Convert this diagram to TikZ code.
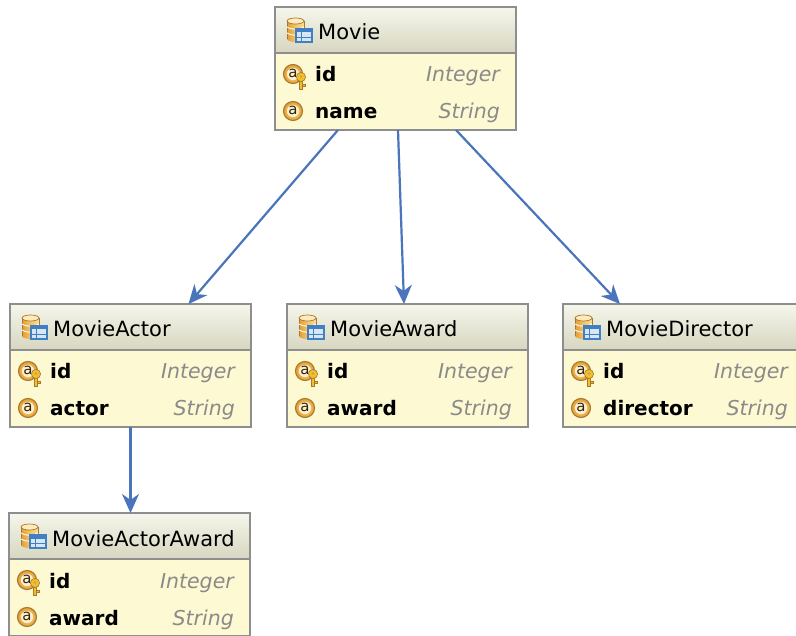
\documentclass[tikz,border=0pt]{standalone}
\usepackage{fontspec}
\setmainfont{DejaVu Sans}
\usetikzlibrary{arrows.meta}
\definecolor{bodyc}{HTML}{FDF9D3}
\definecolor{hdtop}{HTML}{F6F6EC}
\definecolor{hdbot}{HTML}{D6D6C0}
\definecolor{bordc}{HTML}{8E8E8E}
\definecolor{arrc}{HTML}{4A74BC}
\definecolor{typec}{HTML}{8A8A8A}
\definecolor{orA}{HTML}{FBDD92}
\definecolor{orB}{HTML}{E39E34}
\definecolor{orD}{HTML}{A9782A}
\definecolor{tblc}{HTML}{3F7FC4}
\definecolor{keyc}{HTML}{F2BE2C}
\tikzset{
 ebox/.style={draw=bordc, line width=1.4pt, fill=bodyc, minimum width=241pt, minimum height=123pt, inner sep=0pt, outer sep=0pt, rectangle},
 ttl/.style={anchor=base west, inner sep=0pt, font=\fontsize{21}{24}\selectfont},
 fname/.style={anchor=base west, inner sep=0pt, font=\fontsize{20}{24}\selectfont\bfseries},
 ftype/.style={anchor=base east, inner sep=0pt, text=typec, font=\fontsize{20.5}{24}\selectfont\itshape},
 aletter/.style={inner sep=0pt, text=black!70!orD, font=\fontsize{15}{15}\selectfont},
 arr/.style={draw=arrc, line width=2.2pt, -{Stealth[length=19pt,width=17pt,inset=6pt]}},
}
% database icon, top-left corner at (#1,#2)
\newcommand\dbicon[2]{%
 \shade[left color=orB, right color=orA, middle color=orA!60!orB] (#1,#2+3) rectangle (#1+17,#2+21);
 \shade[left color=orB, right color=orA, middle color=orA!60!orB] (#1+8.5,#2+21) ellipse [x radius=8.5pt, y radius=3pt];
 \fill[orA!60!white] (#1+8.5,#2+3) ellipse [x radius=8.5pt, y radius=3pt];
 \draw[orD, line width=0.7pt] (#1+8.5,#2+3) ellipse [x radius=8.5pt, y radius=3pt];
 \draw[orD, line width=0.7pt] (#1,#2+3) -- (#1,#2+21) (#1+17,#2+3) -- (#1+17,#2+21);
 \draw[white, line width=0.9pt] (#1,#2+9) .. controls (#1+4,#2+12) and (#1+13,#2+12) .. (#1+17,#2+9);
 \draw[white, line width=0.9pt] (#1,#2+15) .. controls (#1+4,#2+18) and (#1+13,#2+18) .. (#1+17,#2+15);
 \fill[white!80!tblc] (#1+9,#2+11) rectangle (#1+25,#2+24);
 \fill[tblc] (#1+9,#2+11) rectangle (#1+25,#2+14.5);
 \draw[tblc, line width=0.7pt] (#1+9,#2+19) -- (#1+25,#2+19) (#1+14,#2+14.5) -- (#1+14,#2+24);
 \draw[tblc, line width=1.1pt] (#1+9,#2+11) rectangle (#1+25,#2+24);
}
% attribute icon centred at (#1,#2), node name #3
\newcommand\attricon[3]{%
 \shade[inner color=orA, outer color=orB] (#1,#2) circle [radius=9.5pt];
 \draw[orD, line width=1.1pt] (#1,#2) circle [radius=9.5pt];
 \fill[white!55!orA] (#1,#2) circle [radius=6.2pt];
 \node[aletter] (#3) at (#1,#2-0.8) {a};
}
\newcommand\keyicon[2]{%
 \fill[keyc, draw=orD, line width=0.6pt] (#1+6.5,#2+6) rectangle (#1+9.5,#2+15);
 \fill[keyc, draw=orD, line width=0.6pt] (#1+9.5,#2+10.5) rectangle (#1+12,#2+12.5);
 \fill[keyc, draw=orD, line width=0.6pt] (#1+8,#2+3) circle [radius=4.6pt];
 \fill[orD!70!white] (#1+8,#2+2.5) circle [radius=1.4pt];
}
% entity box: #1 name, #2 left, #3 top, #4 title, #5 attribute
\newcommand\entity[5]{%
 \node[ebox, anchor=north west] (#1) at (#2,#3) {};
 \shade[top color=hdtop, bottom color=hdbot] (#2,#3) rectangle (#2+241,#3+46);
 \draw[bordc, line width=1.4pt] (#2,#3) rectangle (#2+241,#3+123);
 \draw[bordc, line width=1.4pt] (#2,#3+46) -- (#2+241,#3+46);
 \dbicon{#2+12}{#3+11}
 \node[ttl] (#1-title) at (#2+43,#3+33) {#4};
 \attricon{#2+18}{#3+67}{#1-ic1}
 \keyicon{#2+18}{#3+67}
 \node[fname] (#1-n1) at (#2+40,#3+75) {id};
 \node[ftype] (#1-t1) at (#2+225,#3+75) {Integer};
 \attricon{#2+18}{#3+104}{#1-ic2}
 \node[fname] (#1-n2) at (#2+40,#3+112) {#5};
 \node[ftype] (#1-t2) at (#2+225,#3+112) {String};
}
\begin{document}
\begin{tikzpicture}[x=1pt, y=-1pt]
 \useasboundingbox (0,0) rectangle (796,636);
 \clip (0,0) rectangle (796,636);
 \fill[white] (0,0) rectangle (796,636);
 \entity{movie}{275}{7}{Movie}{name}
 \entity{actor}{10}{304}{MovieActor}{actor}
 \entity{award}{287}{304}{MovieAward}{award}
 \entity{director}{563}{304}{MovieDirector}{director}
 \entity{aaward}{9}{513}{MovieActorAward}{award}
 \draw[arr] ([xshift=-57.5pt]movie.south) -- ([xshift=58pt]actor.north);
 \draw[arr] ([xshift=2.5pt]movie.south) -- ([xshift=-3.5pt]award.north);
 \draw[arr] ([xshift=60.5pt]movie.south) -- ([xshift=-63.5pt]director.north);
 \draw[arr] (actor.south) -- (actor.south |- aaward.north);
\end{tikzpicture}
\end{document}
